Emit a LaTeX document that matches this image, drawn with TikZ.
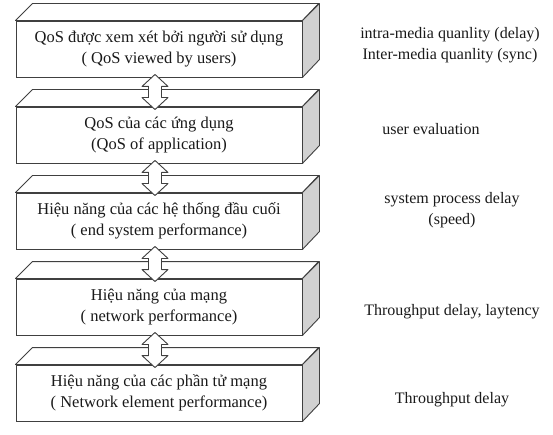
\documentclass[tikz,border=0pt]{standalone}
\usepackage{fontspec}
\setmainfont{Liberation Serif}
\usetikzlibrary{calc}

\tikzset{
    layer/.style={draw=black!75, line width=0.9pt, fill=white,
        minimum width=286pt, minimum height=56pt, inner sep=0pt,
        align=center, text=black!90, font=\fontsize{16.5}{21}\selectfont},
    face/.style={draw=black!75, line width=0.9pt, line join=round},
    note/.style={align=center, text=black!90, font=\fontsize{16}{21}\selectfont}
}

% top and side face of a layer
\newcommand{\slab}[1]{%
    \draw[face, fill=white]
        (#1.north west) -- ++(17, 17) -- ++(286, 0) -- (#1.north east) -- cycle;
    \draw[face, fill=black!18]
        (#1.north east) -- ++(17, 17) -- ++(0, -56) -- (#1.south east) -- cycle;
}

% hollow double arrow from layer #1 down to layer #2
\newcommand{\updown}[2]{%
    \draw[face, fill=white] let \p1 = (#1.south), \p2 = (#2.north) in
        (155, \y1+3pt) -- (168, \y1-9pt) -- (161.5, \y1-9pt)
        -- (161.5, \y2+9pt) -- (168, \y2+9pt) -- (155, \y2-3pt)
        -- (142, \y2+9pt) -- (148.5, \y2+9pt) -- (148.5, \y1-9pt)
        -- (142, \y1-9pt) -- cycle;
}

\begin{document}
\begin{tikzpicture}[x=1pt, y=1pt]
    \useasboundingbox (0, 0) rectangle (553, 434);

    % layers
    \node[layer] (users) at (159, 385)
        {QoS được xem xét bởi người sử dụng\\( QoS viewed by users)};
    \node[layer] (app) at (159, 299)
        {QoS của các ứng dụng\\(QoS of application)};
    \node[layer] (endsys) at (159, 213)
        {Hiệu năng của các hệ thống đầu cuối\\( end system performance)};
    \node[layer] (net) at (159, 127)
        {Hiệu năng của mạng\\( network performance)};
    \node[layer] (elem) at (159, 41)
        {Hiệu năng của các phần tử mạng\\( Network element performance)};

    \slab{users}
    \slab{app}
    \slab{endsys}
    \slab{net}
    \slab{elem}

    % arrows between layers
    \updown{users}{app}
    \updown{app}{endsys}
    \updown{endsys}{net}
    \updown{net}{elem}

    % measures
    \node[note] (intra) at (450, 389)
        {intra-media quanlity (delay)\\Inter-media quanlity (sync)};
    \node[note] (eval) at (431, 305) {user evaluation};
    \node[note] (speed) at (452, 224) {system process delay\\(speed)};
    \node[note] (thru) at (452, 122) {Throughput delay, laytency};
    \node[note] (thru2) at (452, 34) {Throughput delay};
\end{tikzpicture}
\end{document}
